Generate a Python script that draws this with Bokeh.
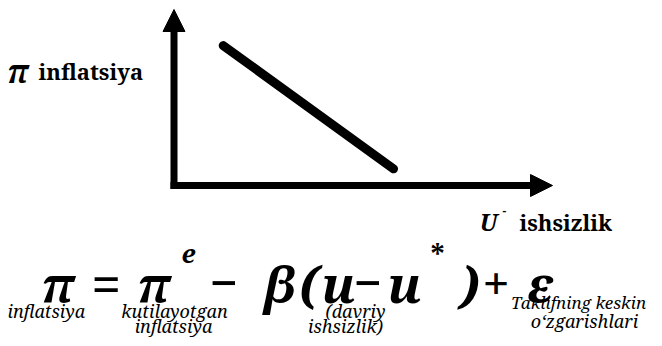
from bokeh.plotting import figure
from bokeh.models import Range1d, Arrow, NormalHead
from bokeh.core.properties import value
from bokeh.embed import file_html
from bokeh.resources import INLINE

# ---- data (chart units) ----
unemployment = [1.3, 5.8]       # u along the curve
inflation = [7.95, 0.95]        # pi along the curve
axis_max_x = 10.0
axis_max_y = 10.0

# ---- layout ----
W, H = 654, 338
ORG_X, ORG_Y = 173.5, 185        # px of axes origin
PX_X = (552 - ORG_X) / axis_max_x
PX_Y = (ORG_Y - 9) / axis_max_y

p = figure(width=W, height=H, output_backend="svg", toolbar_location=None,
           x_range=Range1d(-ORG_X / PX_X, (W - ORG_X) / PX_X),
           y_range=Range1d(-(H - ORG_Y) / PX_Y, ORG_Y / PX_Y),
           min_border=0, outline_line_color=None)
p.extra_x_ranges = {"px": Range1d(0, W)}
p.extra_y_ranges = {"px": Range1d(H, 0)}
p.axis.visible = False
p.grid.visible = False
p.background_fill_color = "white"
p.border_fill_color = "white"

# axes with arrow heads
ext_x = 3.5 / PX_X
ext_y = 3.5 / PX_Y
p.add_layout(Arrow(end=NormalHead(size=22, fill_color="black", line_color="black"),
                   x_start=-ext_x, y_start=0, x_end=axis_max_x, y_end=0,
                   line_width=7, line_color="black"))
p.add_layout(Arrow(end=NormalHead(size=22, fill_color="black", line_color="black"),
                   x_start=0, y_start=-ext_y, x_end=0, y_end=axis_max_y,
                   line_width=7, line_color="black"))

# the curve
p.line(unemployment, inflation, line_width=9, line_color="black", line_cap="round")

SERIF = "Noto Serif"


def lab(text, x, y, size, style="normal", align="left", font=SERIF):
    p.text(x=[x], y=[y], text=[text], x_range_name="px", y_range_name="px",
           text_font=value(font), text_font_size=f"{size}px",
           text_font_style=style, text_color="black",
           text_align=align, text_baseline="alphabetic")


# axis labels
lab("π", 7, 70, 32, "bold italic")
lab("inflatsiya", 38, 70, 22, "bold")
lab("U", 479, 221, 24, "bold italic")
lab("-", 502, 210, 12, "bold")
lab("ishsizlik", 519, 221, 22, "bold")

# formula
FB = 283
FS = 50
lab("π", 41, FB, FS, "bold italic")
lab("=", 91, FB, 52, "bold")
lab("π", 137, FB, FS, "bold italic")
lab("e", 181, FB - 30, 26, "bold italic")
lab("−", 209, FB, FS, "normal")
lab("β", 264, FB, FS, "bold italic")
lab("(", 299, FB, FS, "bold italic")
lab("u", 321, FB, FS, "bold italic")
lab("−", 353, FB, FS, "normal")
lab("u", 387, FB, FS, "bold italic")
lab("*", 430, FB - 30, 28, "bold")
lab(")", 459, FB, FS, "bold italic")
lab("+", 482, FB, 48, "bold")
lab("ε", 526, FB, FS, "bold italic")

# annotations under the formula
R1, R2 = 310, 325
LS = 18
lab("inflatsiya", 7, R1, LS, "italic")
lab("kutilayotgan", 174, R1, LS, "italic", "center")
lab("inflatsiya", 173, R2, LS, "italic", "center")
lab("(davriy", 355, R1, LS, "italic", "center")
lab("ishsizlik)", 345, R2, LS, "italic", "center")
lab("Taklifning keskin", 578, 302, 17, "italic", "center")
lab("o‘zgarishlari", 584, 320, LS, "italic", "center")

open("out.html", "w").write(file_html(p, INLINE))
